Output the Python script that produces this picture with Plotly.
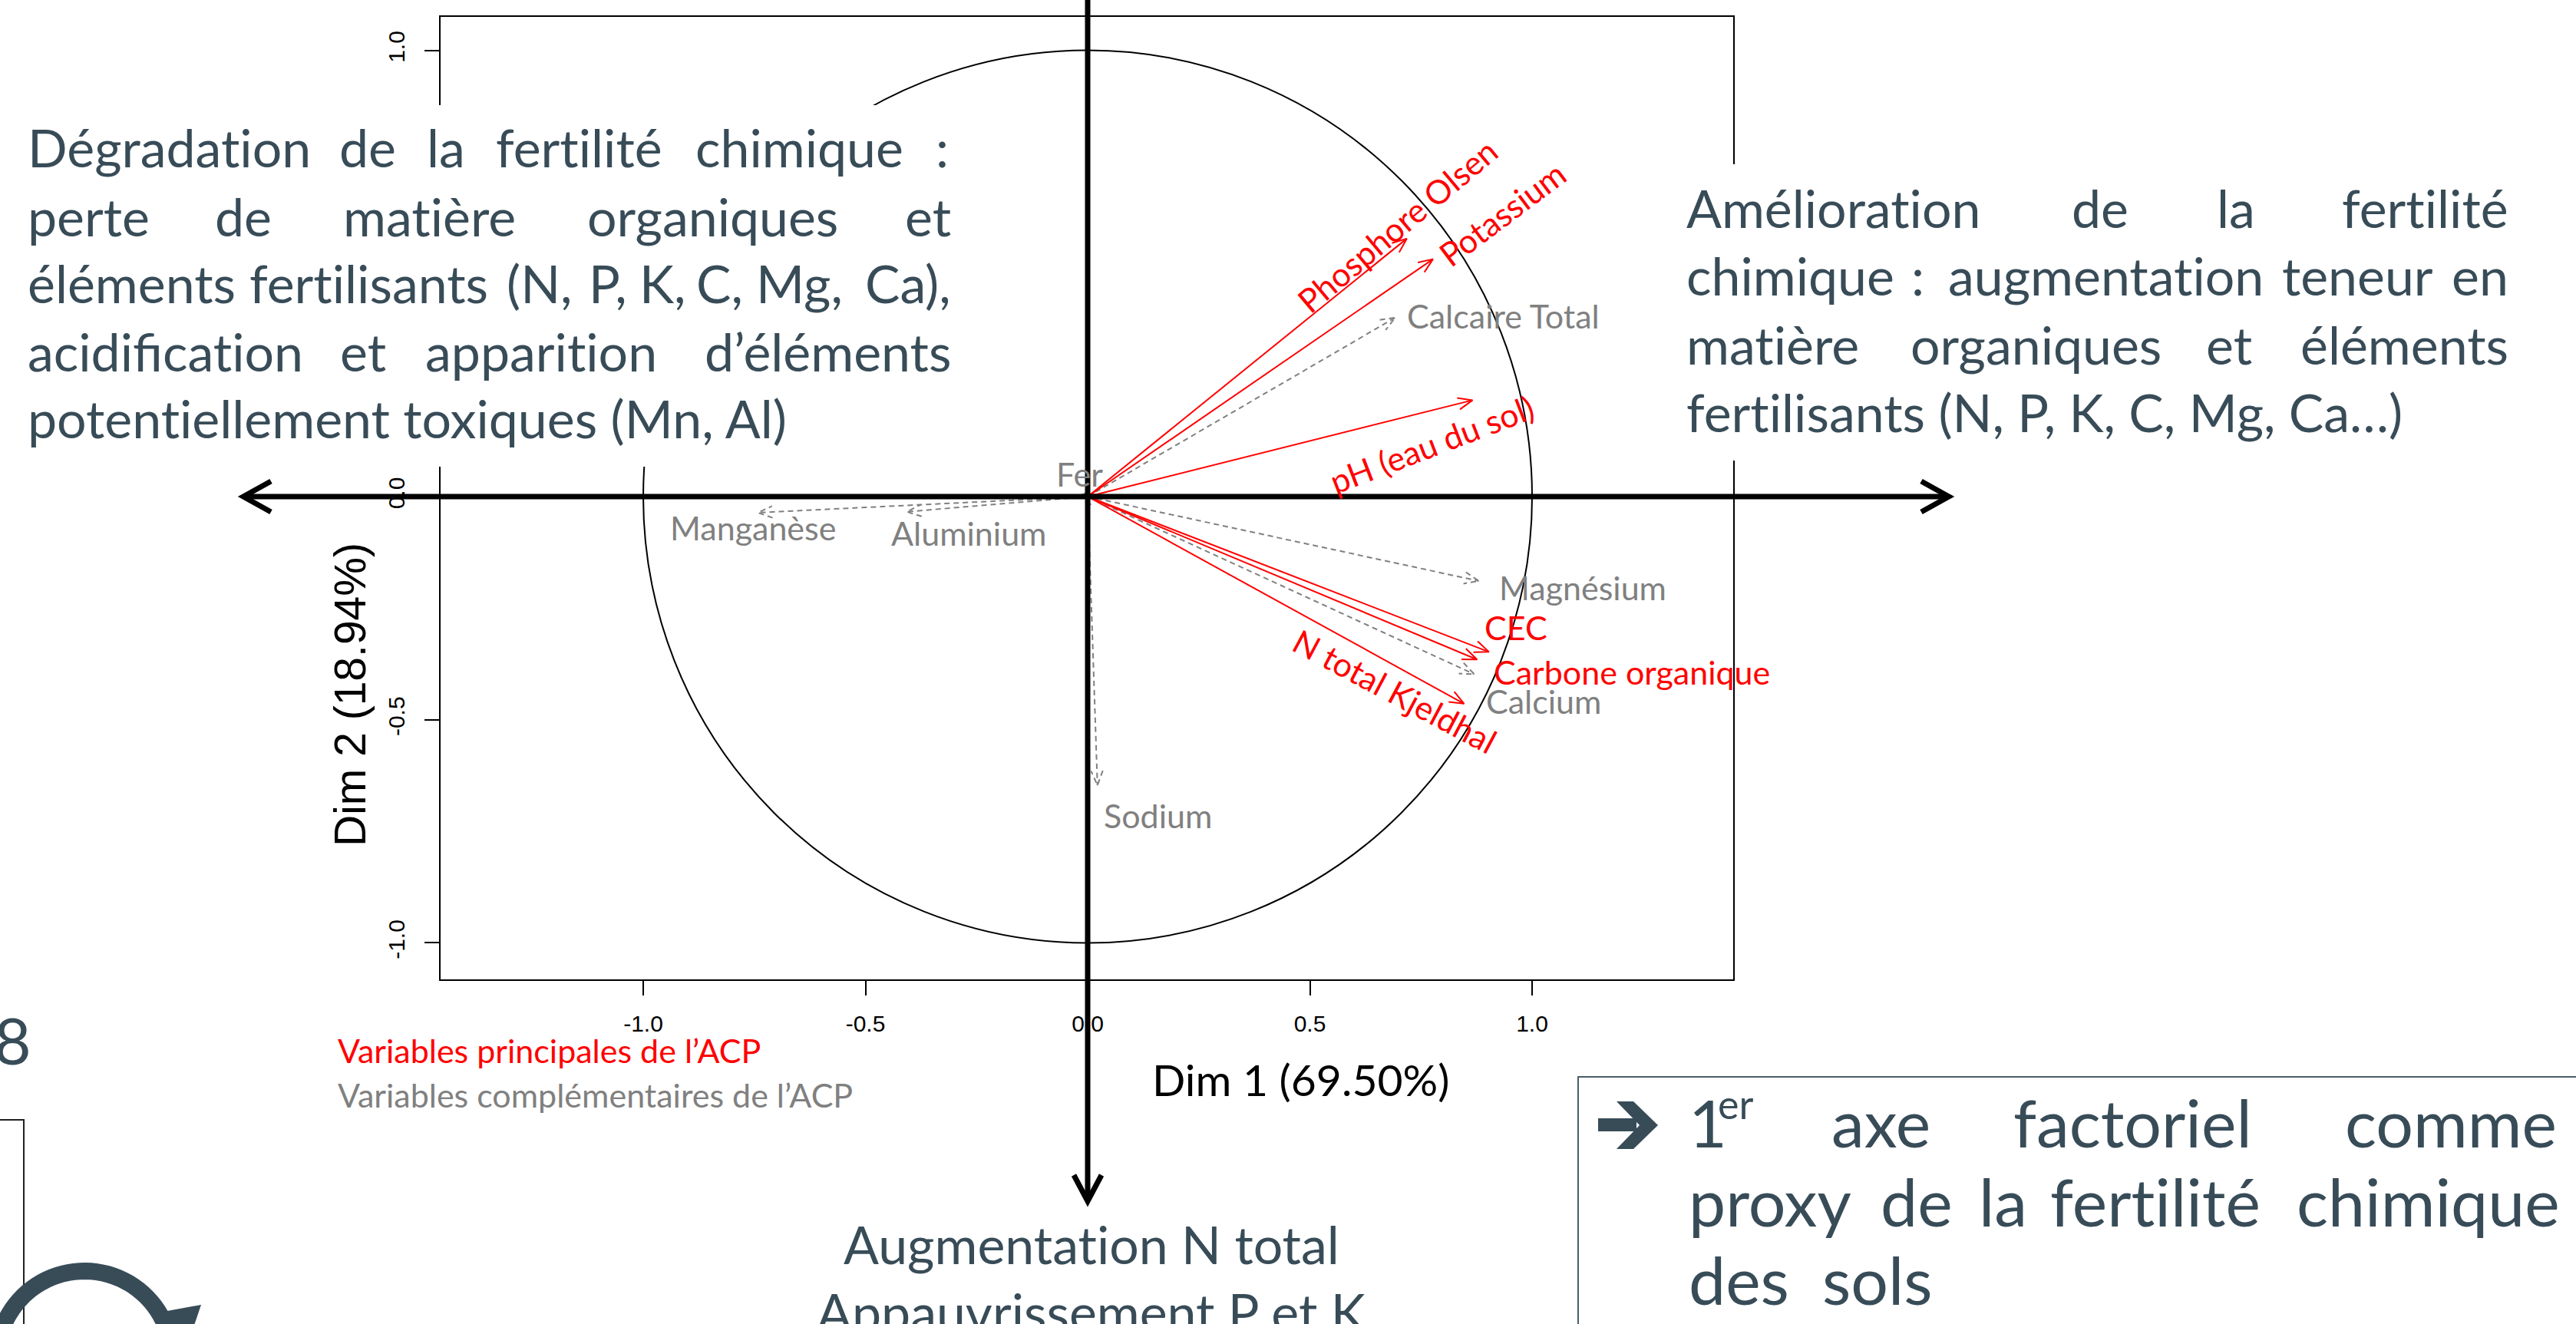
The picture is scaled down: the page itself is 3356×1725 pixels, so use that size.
import numpy as np
import plotly.graph_objects as go

# ---------------- data ----------------
principal_names = ["Phosphore Olsen", "Potassium", "pH (eau du sol)", "CEC",
                   "Carbone organique", "N total Kjeldhal"]
principal_dim1 = [0.718, 0.777, 0.866, 0.903, 0.876, 0.847]
principal_dim2 = [0.578, 0.532, 0.216, -0.348, -0.365, -0.464]

supp_names = ["Calcaire Total", "Magnésium", "Calcium", "Sodium",
              "Manganèse", "Aluminium", "Fer"]
supp_dim1 = [0.692, 0.880, 0.870, 0.022, -0.742, -0.407, -0.015]
supp_dim2 = [0.401, -0.189, -0.398, -0.647, -0.036, -0.034, 0.008]

x_tick_vals = [-1.0, -0.5, 0.0, 0.5, 1.0]
x_tick_text = ["-1.0", "-0.5", "0.0", "0.5", "1.0"]
y_tick_vals = [-1.0, -0.5, 0.0, 0.5, 1.0]
y_tick_text = ["-1.0", "-0.5", "0.0", "0.5", "1.0"]
dim1_title = "Dim 1 (69.50%)"
dim2_title = "Dim 2 (18.94%)"

# ---------------- layout / style ----------------
FIG_W, FIG_H = 3356, 1725
PL, PR, PT, PB = 574, 2258, 22, 1276
X_RANGE = [-1.456, 1.4525]
Y_RANGE = [-1.0817, 1.0748]
RED = "#FF0000"
GREY = "#808080"
SLATE = "#384C58"
LATO = "Lato, Carlito, sans-serif"
ARIAL = "Liberation Sans, Arial, sans-serif"

# label placement: (xanchor, xshift px, yshift px, angle)
principal_label_style = {
    "Phosphore Olsen": ("center", -12, 17, -40),
    "Potassium": ("center", 90, 59, -37),
    "pH (eau du sol)": ("center", -53, -57, -21),
    "CEC": ("left", -7, 32, 0),
    "Carbone organique": ("left", 21, -16, 0),
    "N total Kjeldhal": ("center", -90, 16, 28),
}
supp_label_style = {
    "Calcaire Total": ("left", 14, 2, 0),
    "Magnésium": ("left", 25, -9, 0),
    "Calcium": ("left", 14, -35, 0),
    "Sodium": ("left", 7, -39, 0),
    "Manganèse": ("left", -115, -20, 0),
    "Aluminium": ("left", -21, -28, 0),
    "Fer": ("left", -33, 25, 0),
}
LABEL_SIZE = 43


def nolig(s):
    # avoid the "ti" ligature of Lato (the slide font has none)
    return s.replace("ti", "t\u200ci")


def pxx(v):
    return (v - PL) / (PR - PL)


def pxy(v):
    return (PB - v) / (PB - PT)


fig = go.Figure()


def arrow_paths(xs, ys, head=0.035, spread=np.radians(22)):
    X, Y = [], []
    for x, y in zip(xs, ys):
        th = np.arctan2(y, x)
        X += [0, x, None, x - head * np.cos(th - spread), x,
              x - head * np.cos(th + spread), None]
        Y += [0, y, None, y - head * np.sin(th - spread), y,
              y - head * np.sin(th + spread), None]
    return X, Y


sx, sy = arrow_paths(supp_dim1, supp_dim2)
fig.add_trace(go.Scatter(x=sx, y=sy, mode="lines", hoverinfo="skip", showlegend=False,
                         line=dict(color=GREY, width=2, dash="7px,5px")))
px_, py_ = arrow_paths(principal_dim1, principal_dim2)
fig.add_trace(go.Scatter(x=px_, y=py_, mode="lines", hoverinfo="skip", showlegend=False,
                         line=dict(color=RED, width=2)))

# correlation circle
fig.add_shape(type="circle", xref="x", yref="y", x0=-1, y0=-1, x1=1, y1=1,
              line=dict(color="black", width=2), layer="below")

# variable labels
for names, xs, ys, style, col in [
    (supp_names, supp_dim1, supp_dim2, supp_label_style, GREY),
    (principal_names, principal_dim1, principal_dim2, principal_label_style, RED),
]:
    for n, x, y in zip(names, xs, ys):
        anc, dx, dy, ang = style[n]
        fig.add_annotation(x=x, y=y, xref="x", yref="y", text=n, showarrow=False,
                           xanchor=anc, yanchor="middle", xshift=dx, yshift=dy,
                           textangle=ang, borderpad=0,
                           font=dict(family=LATO, size=LABEL_SIZE, color=col))

# white text boxes (cover the frame like on the slide)
fig.add_shape(type="rect", xref="paper", yref="paper", x0=pxx(-10), x1=pxx(1255),
              y0=pxy(608), y1=pxy(137), fillcolor="white", line=dict(width=0), layer="above")
fig.add_shape(type="rect", xref="paper", yref="paper", x0=pxx(2175), x1=pxx(3370),
              y0=pxy(600), y1=pxy(214), fillcolor="white", line=dict(width=0), layer="above")
fig.add_shape(type="rect", xref="paper", yref="paper", x0=pxx(2056), x1=pxx(3400),
              y0=pxy(1800), y1=pxy(1403), fillcolor="white",
              line=dict(width=2, color="#4A5E69"), layer="above")

# big black axis arrows
BW = 7
fig.add_shape(type="line", xref="paper", yref="paper", x0=pxx(317), x1=pxx(2539),
              y0=pxy(647), y1=pxy(647), line=dict(color="black", width=BW), layer="above")
fig.add_shape(type="line", xref="paper", yref="paper", x0=pxx(1417), x1=pxx(1417),
              y0=pxy(-5), y1=pxy(1565), line=dict(color="black", width=BW), layer="above")


def poly(pts):
    return "M " + " L ".join(f"{pxx(a):.5f},{pxy(b):.5f}" for a, b in pts)


def chevron(pts, color="black", width=BW):
    fig.add_shape(type="path", xref="paper", yref="paper", path=poly(pts),
                  line=dict(color=color, width=width), layer="above")


chevron([(2503, 627), (2539, 647), (2503, 667)])
chevron([(353, 627), (317, 647), (353, 667)])
chevron([(1399, 1531), (1417, 1565), (1435, 1531)])

# left-edge decorations (slide fragments)
fig.add_shape(type="path", xref="paper", yref="paper",
              path=poly([(-5, 1459), (31, 1459), (31, 1740)]),
              line=dict(color="#222222", width=2), layer="above")
cx, cy, rr = 110, 1770, 114
th = np.radians(np.linspace(168, 22, 40))
fig.add_shape(type="path", xref="paper", yref="paper",
              path=poly([(cx + rr * np.cos(t), cy - rr * np.sin(t)) for t in th]),
              line=dict(color=SLATE, width=22), layer="above")
fig.add_shape(type="path", xref="paper", yref="paper",
              path=poly([(196, 1712), (262, 1700), (240, 1765)]) + " Z",
              fillcolor=SLATE, line=dict(width=0), layer="above")

# heavy bullet arrow of the conclusion box
fig.add_shape(type="rect", xref="paper", yref="paper", x0=pxx(2082), x1=pxx(2132),
              y0=pxy(1474), y1=pxy(1457), fillcolor=SLATE, line=dict(width=0), layer="above")
fig.add_shape(type="path", xref="paper", yref="paper",
              path=poly([(2106, 1435), (2128, 1435), (2160, 1466), (2128, 1497),
                         (2106, 1497), (2136, 1466)]) + " Z",
              fillcolor=SLATE, line=dict(width=0), layer="above")


def txt(s, x, base, size, anchor="left", color=SLATE, family=LATO, k=0.387, weight=None):
    f = dict(family=family, size=size, color=color)
    if weight:
        f["weight"] = weight
    fig.add_annotation(x=pxx(x), y=pxy(base - k * size), xref="paper", yref="paper",
                       text=nolig(s), showarrow=False, xanchor=anchor, yanchor="middle",
                       borderpad=0, font=f)


BIG = 68
left_lines = [
    (217.5, [("Dégradation", 35, "left"), ("de", 478.6, "center"), ("la", 580.5, "center"),
             ("fertilité", 754.6, "center"), ("chimique", 1041, "center"), (":", 1237, "right")]),
    (308, [("perte", 35, "left"), ("de", 317, "center"), ("matière", 559, "center"),
           ("organiques", 928, "center"), ("et", 1240, "right")]),
    (395, [("éléments", 35, "left"), ("fertilisants", 480, "center"), ("(N,", 703, "center"),
           ("P,", 792, "center"), ("K,", 863, "center"), ("C,", 937, "center"),
           ("Mg,", 1041, "center"), ("Ca),", 1240, "right")]),
    (484, [("acidification", 35, "left"), ("et", 473, "center"), ("apparition", 705, "center"),
           ("d’éléments", 1240, "right")]),
    (571, [("potentiellement toxiques (Mn, Al)", 35, "left")]),
]
right_lines = [
    (297, [("Amélioration", 2196, "left"), ("de", 2736, "center"), ("la", 2913, "center"),
           ("fertilité", 3269, "right")]),
    (385, [("chimique", 2196, "left"), (":", 2498, "center"), ("augmentation", 2743, "center"),
           ("teneur", 3071, "center"), ("en", 3269, "right")]),
    (475, [("matière", 2196, "left"), ("organiques", 2652, "center"), ("et", 2904, "center"),
           ("éléments", 3269, "right")]),
    (563, [("fertilisants (N, P, K, C, Mg, Ca…)", 2196, "left")]),
]
for base, words in left_lines + right_lines:
    for w, x, a in words:
        txt(w, x, base, BIG, a)

txt("Augmentation N total", 1422, 1647, BIG, "center")
txt("Appauvrissement P et K", 1422, 1735, BIG, "center")

# legend-like captions and axis titles
txt("Variables principales de l’ACP", 439, 1385, LABEL_SIZE, "left", RED)
txt("Variables complémentaires de l’ACP", 439, 1443, LABEL_SIZE, "left", GREY)
txt(dim1_title, 1694, 1428, 57, "center", "black")
fig.add_annotation(x=pxx(456), y=pxy(905), xref="paper", yref="paper", text=dim2_title,
                   showarrow=False, xanchor="center", yanchor="middle", textangle=-90,
                   font=dict(family=ARIAL, size=57, color="black"))
txt("8", 42, 1387, 84, "right")

# conclusion box
CB = 86
concl_lines = [
    (1495, [("axe", 2450, "center"), ("factoriel", 2778, "center"), ("comme", 3332, "right")]),
    (1598, [("proxy", 2199, "left"), ("de", 2497, "center"), ("la", 2609, "center"),
            ("fertilité", 2808, "center"), ("chimique", 3336, "right")]),
    (1700, [("des", 2199, "left"), ("sols", 2519, "right")]),
]
txt("1", 2199, 1495, CB, "left", weight=400)
txt("er", 2237, 1458, 52, "left", weight=400)
for base, words in concl_lines:
    for w, x, a in words:
        txt(w, x, base, CB, a, weight=400)

axis_common = dict(showline=True, mirror=True, linecolor="black", linewidth=2,
                   showgrid=False, zeroline=False, ticks="outside", ticklen=19,
                   tickwidth=2, tickcolor="black",
                   tickfont=dict(family=ARIAL, size=30, color="black"))
fig.update_xaxes(range=X_RANGE, tickvals=x_tick_vals, ticktext=x_tick_text,
                 ticklabelstandoff=11, **axis_common)
fig.update_yaxes(range=Y_RANGE, tickvals=y_tick_vals, ticktext=y_tick_text,
                 tickangle=-90, ticklabelstandoff=14, **axis_common)

fig.update_layout(width=FIG_W, height=FIG_H, autosize=False,
                  margin=dict(l=PL, r=FIG_W - PR, t=PT, b=FIG_H - PB, pad=0),
                  paper_bgcolor="white", plot_bgcolor="white", showlegend=False)

fig.write_html("out.html", config={"displayModeBar": False},
               post_script="document.body.style.margin='0px';document.body.style.overflow='hidden';")
